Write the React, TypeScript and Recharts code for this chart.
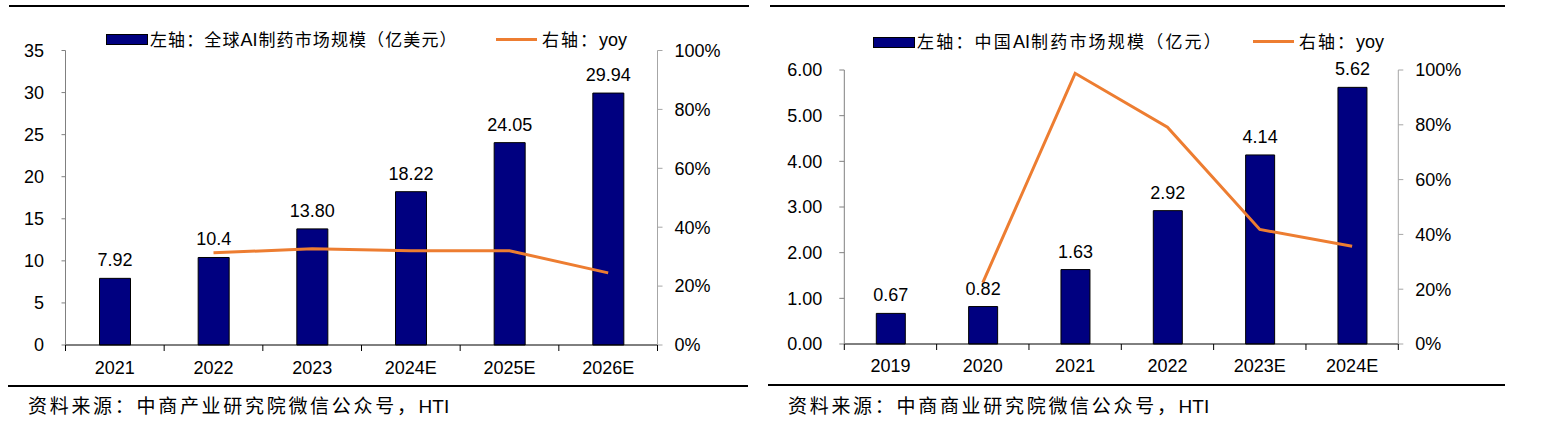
import React from "react";
import { ComposedChart, Bar, Line, XAxis, YAxis, LabelList } from "recharts";

// 左图：全球AI制药市场规模
const globalYears = ["2021", "2022", "2023", "2024E", "2025E", "2026E"];
const globalMarket = [7.92, 10.4, 13.8, 18.22, 24.05, 29.94];
const globalMarketLabels = ["7.92", "10.4", "13.80", "18.22", "24.05", "29.94"];
const globalYoy = [null, 0.313, 0.327, 0.32, 0.32, 0.245];
const globalLeftTicks = [0, 5, 10, 15, 20, 25, 30, 35];

// 右图：中国AI制药市场规模
const chinaYears = ["2019", "2020", "2021", "2022", "2023E", "2024E"];
const chinaMarket = [0.67, 0.82, 1.63, 2.92, 4.14, 5.62];
const chinaMarketLabels = ["0.67", "0.82", "1.63", "2.92", "4.14", "5.62"];
const chinaYoy = [null, 0.224, 0.988, 0.791, 0.418, 0.357];
const chinaLeftTicks = [0, 1, 2, 3, 4, 5, 6];

const pctTicks = [0, 0.2, 0.4, 0.6, 0.8, 1];

const NAVY = "#000080";
const ORANGE = "#ED7D31";
const FONT = "'Liberation Sans', Arial, 'Noto Sans CJK SC', sans-serif";
const tickStyle = { fontSize: 18, fill: "#000", fontFamily: FONT };

const globalData = globalYears.map((year, i) => ({
  year,
  market: globalMarket[i],
  label: globalMarketLabels[i],
  yoy: globalYoy[i],
}));

const chinaData = chinaYears.map((year, i) => ({
  year,
  market: chinaMarket[i],
  label: chinaMarketLabels[i],
  yoy: chinaYoy[i],
}));

// category label plus a short mark at the band edges (Excel style)
function CatTick({ x, y, payload, index, visibleTicksCount, gap }: any) {
  const half = payload?.offset ?? 0;
  const axisY = y - gap;
  return (
    <g>
      <line x1={x - half} y1={axisY} x2={x - half} y2={axisY + 6} stroke="#000" />
      {index === visibleTicksCount - 1 && (
        <line x1={x + half} y1={axisY} x2={x + half} y2={axisY + 6} stroke="#000" />
      )}
      <text x={x} y={y} dy="0.71em" textAnchor="middle" {...tickStyle}>
        {payload.value}
      </text>
    </g>
  );
}

function MarketChart({
  data,
  left,
  width,
  margin,
  leftTicks,
  leftFormat,
  leftWidth,
  leftTickSize,
  leftTickMargin,
  xTickMargin,
  barSize,
}: any) {
  return (
    <div style={{ position: "absolute", left, top: 0 }}>
      <ComposedChart width={width} height={400} data={data} margin={margin}>
        <XAxis
          dataKey="year"
          axisLine={{ stroke: "#000", strokeWidth: 1 }}
          tickLine={false}
          tickSize={0}
          tickMargin={xTickMargin}
          height={40}
          interval={0}
          tick={<CatTick gap={xTickMargin} />}
        />
        <YAxis
          yAxisId="l"
          domain={[leftTicks[0], leftTicks[leftTicks.length - 1]]}
          ticks={leftTicks}
          interval={0}
          width={leftWidth}
          tickSize={leftTickSize}
          tickMargin={leftTickMargin}
          tickFormatter={leftFormat}
          stroke="#808080"
          tick={tickStyle}
        />
        <YAxis
          yAxisId="r"
          orientation="right"
          domain={[0, 1]}
          ticks={pctTicks}
          interval={0}
          width={70}
          tickSize={5}
          tickMargin={12}
          tickFormatter={(v: number) => `${Math.round(v * 100)}%`}
          stroke="#A6A6A6"
          tick={tickStyle}
        />
        <Bar
          yAxisId="l"
          dataKey="market"
          fill={NAVY}
          stroke="#000"
          strokeWidth={1}
          barSize={barSize}
          isAnimationActive={false}
        >
          <LabelList
            dataKey="label"
            position="top"
            offset={12}
            style={{ fontSize: 18, fill: "#000", fontFamily: FONT }}
          />
        </Bar>
        <Line
          yAxisId="r"
          dataKey="yoy"
          stroke={ORANGE}
          strokeWidth={3}
          dot={false}
          activeDot={false}
          isAnimationActive={false}
        />
      </ComposedChart>
    </div>
  );
}

// CJK runs get extra spacing, Latin runs stay tight
function MixedText({ text, cjkSize, latinSize, spacing }: any) {
  const parts = text.split(/([A-Za-z0-9]+)/).filter((p: string) => p.length > 0);
  return (
    <>
      {parts.map((p: string, i: number) =>
        /^[A-Za-z0-9]+$/.test(p) ? (
          <span key={i} style={{ fontSize: latinSize, letterSpacing: 0, marginRight: 1 }}>
            {p}
          </span>
        ) : (
          <span key={i} style={{ fontSize: cjkSize, letterSpacing: spacing }}>
            {p}
          </span>
        )
      )}
    </>
  );
}

function Legend({ barLeft, barTop, barText, lineLeft, lineY, lineText, textCenter, spacing }: any) {
  const text = {
    position: "absolute" as const,
    top: textCenter - 12,
    height: 24,
    lineHeight: "24px",
    fontFamily: FONT,
    whiteSpace: "nowrap" as const,
    color: "#000",
  };
  return (
    <>
      <div
        style={{
          position: "absolute",
          left: barLeft,
          top: barTop,
          width: 40,
          height: 9,
          background: NAVY,
          border: "1px solid #000",
        }}
      />
      <div style={{ ...text, left: barLeft + 44 }}>
        <MixedText text={barText} cjkSize={17} latinSize={18} spacing={spacing} />
      </div>
      <div
        style={{
          position: "absolute",
          left: lineLeft,
          top: lineY - 1.5,
          width: 41,
          height: 3,
          background: ORANGE,
        }}
      />
      <div style={{ ...text, left: lineLeft + 46 }}>
        <MixedText text={lineText} cjkSize={17} latinSize={18} spacing={2} />
      </div>
    </>
  );
}

function Rule({ left, top, width }: any) {
  return (
    <div style={{ position: "absolute", left, top, width, height: 2, background: "#000" }} />
  );
}

function Source({ left, text }: any) {
  return (
    <div
      style={{
        position: "absolute",
        left,
        top: 394,
        height: 26,
        lineHeight: "26px",
        fontFamily: FONT,
        whiteSpace: "nowrap",
        color: "#000",
      }}
    >
      <MixedText text={text} cjkSize={19} latinSize={19} spacing={2.7} />
    </div>
  );
}

export default function App() {
  return (
    <div
      style={{
        position: "absolute",
        left: 0,
        top: 0,
        width: 1554,
        height: 435,
        background: "#fff",
        overflow: "hidden",
      }}
    >
      <Rule left={9} top={4.5} width={740} />
      <Rule left={770} top={4.5} width={735} />

      <MarketChart
        data={globalData}
        left={0}
        width={748}
        margin={{ top: 50.5, right: 20.5, bottom: 15, left: 15.5 }}
        leftTicks={globalLeftTicks}
        leftFormat={(v: number) => `${v}`}
        leftWidth={50}
        leftTickSize={4}
        leftTickMargin={17.5}
        xTickMargin={16}
        barSize={31}
      />
      <MarketChart
        data={chinaData}
        left={770}
        width={740}
        margin={{ top: 70, right: 41.7, bottom: 16, left: 14.3 }}
        leftTicks={chinaLeftTicks}
        leftFormat={(v: number) => v.toFixed(2)}
        leftWidth={60}
        leftTickSize={5}
        leftTickMargin={17}
        xTickMargin={15}
        barSize={29}
      />

      <Legend
        barLeft={106}
        barTop={34}
        barText="左轴：全球AI制药市场规模（亿美元）"
        lineLeft={496}
        lineY={39}
        lineText="右轴：yoy"
        textCenter={39.5}
        spacing={1.1}
      />
      <Legend
        barLeft={873}
        barTop={37}
        barText="左轴：中国AI制药市场规模（亿元）"
        lineLeft={1253}
        lineY={41.7}
        lineText="右轴：yoy"
        textCenter={42}
        spacing={2.2}
      />

      <Rule left={8} top={384.5} width={740} />
      <Rule left={768} top={383.5} width={737} />

      <Source left={28} text="资料来源：中商产业研究院微信公众号，HTI" />
      <Source left={788} text="资料来源：中商商业研究院微信公众号，HTI" />
    </div>
  );
}
